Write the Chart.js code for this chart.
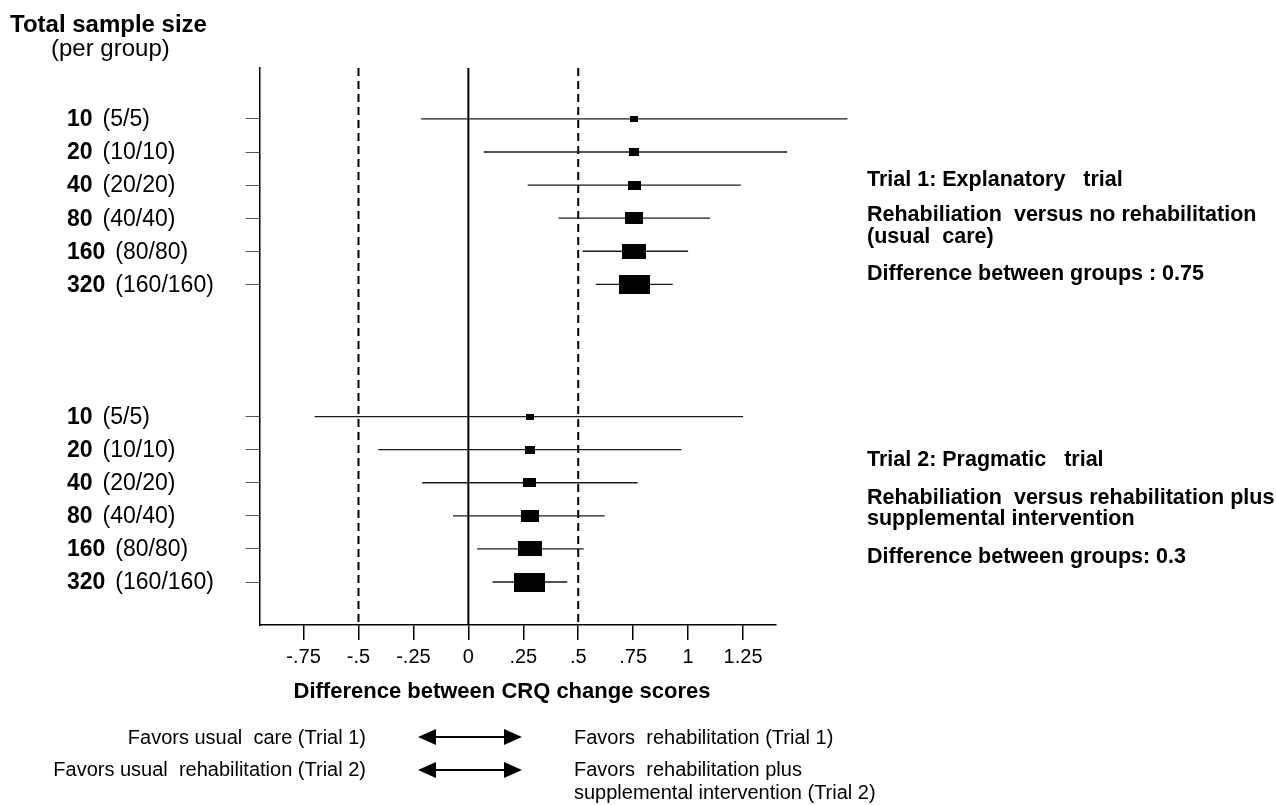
<!DOCTYPE html>
<html>
<head>
<meta charset="utf-8">
<title>Forest plot - CRQ change scores</title>
<script src="https://cdn.jsdelivr.net/npm/chart.js@4.4.0/dist/chart.umd.min.js"></script>
<style>
  html, body { margin: 0; padding: 0; background: #fff; }
  #wrap { width: 1276px; height: 805px; position: relative; }
</style>
</head>
<body>
<div id="wrap"><canvas id="forest"></canvas></div>
<script>
// sample sizes per row (total, and per group)
const sampleTotal = [10, 20, 40, 80, 160, 320];
const samplePerGroup = ['5/5', '10/10', '20/20', '40/40', '80/80', '160/160'];

// Trial 1: explanatory trial (rows 0-5)
const trial1Rows = [0, 1, 2, 3, 4, 5];
const trial1Est = [0.755, 0.755, 0.755, 0.755, 0.755, 0.755];
const trial1Lo = [-0.215, 0.07, 0.27, 0.41, 0.52, 0.58];
const trial1Hi = [1.725, 1.45, 1.24, 1.10, 1.00, 0.93];

// Trial 2: pragmatic trial (rows 9-14)
const trial2Rows = [9, 10, 11, 12, 13, 14];
const trial2Est = [0.28, 0.28, 0.28, 0.28, 0.28, 0.28];
const trial2Lo = [-0.70, -0.41, -0.21, -0.07, 0.04, 0.11];
const trial2Hi = [1.25, 0.97, 0.77, 0.62, 0.525, 0.45];

// x axis
const xTicks = [-0.75, -0.5, -0.25, 0, 0.25, 0.5, 0.75, 1, 1.25];
const xTickLabels = ['-.75', '-.5', '-.25', '0', '.25', '.5', '.75', '1', '1.25'];
const refLines = [-0.5, 0, 0.5];

const Y_MIN = -1.54, Y_MAX = 15.3;
const FONT = '"Liberation Sans", Arial, Helvetica, sans-serif';

// box size grows with sample size
function boxImage(n) {
    var w = Math.round(7.5 * Math.pow(n / 10, 0.414));
    var h = Math.round(w * 0.55 + 2);
    var c = document.createElement('canvas');
    c.width = w;
    c.height = h;
    var g = c.getContext('2d');
    g.fillStyle = '#000';
    g.fillRect(0, 0, w, h);
    return c;
}

function ciDatasets(rows, lo, hi) {
    return rows.map(function(r, i) {
        return {
            data: [{x: lo[i], y: r}, {x: hi[i], y: r}],
            showLine: true,
            borderColor: '#1a1a1a',
            borderWidth: 1.3,
            pointRadius: 0,
            clip: false,
            order: 2
        };
    });
}

function boxDataset(rows, est) {
    return {
        data: rows.map(function(r, i) { return {x: est[i], y: r}; }),
        pointStyle: sampleTotal.map(boxImage),
        pointRadius: 5,
        order: 0
    };
}

var refDatasets = refLines.map(function(v) {
    return {
        data: [{x: v, y: Y_MIN}, {x: v, y: Y_MAX}],
        showLine: true,
        borderColor: '#000',
        borderWidth: 2,
        borderDash: v === 0 ? [] : [8, 5],
        pointRadius: 0,
        order: 3
    };
});

function drawArrow(ctx, x1, x2, y) {
    var head = 18, half = 8;
    ctx.beginPath();
    ctx.moveTo(x1 + head - 2, y);
    ctx.lineTo(x2 - head + 2, y);
    ctx.lineWidth = 2;
    ctx.strokeStyle = '#000';
    ctx.stroke();
    ctx.beginPath();
    ctx.moveTo(x1, y);
    ctx.lineTo(x1 + head, y - half);
    ctx.lineTo(x1 + head, y + half);
    ctx.closePath();
    ctx.moveTo(x2, y);
    ctx.lineTo(x2 - head, y - half);
    ctx.lineTo(x2 - head, y + half);
    ctx.closePath();
    ctx.fillStyle = '#000';
    ctx.fill();
}

// texts around the plot: row labels, header, axis title, trial notes, favours legend
var textPlugin = {
    id: 'texts',
    afterDraw: function(chart) {
        var ctx = chart.ctx;
        var yScale = chart.scales.y;
        ctx.save();
        ctx.fillStyle = '#000';
        ctx.textAlign = 'left';
        ctx.textBaseline = 'alphabetic';

        ctx.font = 'bold 24px ' + FONT;
        ctx.fillText('Total sample size', 10, 32);
        ctx.font = '24px ' + FONT;
        ctx.fillText('(per group)', 51, 56);

        ctx.textBaseline = 'middle';
        [trial1Rows, trial2Rows].forEach(function(rows) {
            rows.forEach(function(r, i) {
                var y = yScale.getPixelForValue(r);
                ctx.font = 'bold 23px ' + FONT;
                var num = String(sampleTotal[i]);
                ctx.fillText(num, 67, y + 1);
                var w = ctx.measureText(num).width;
                ctx.font = '23px ' + FONT;
                ctx.fillText('(' + samplePerGroup[i] + ')', 67 + w + 10, y + 1);
            });
        });

        // x axis title
        ctx.textAlign = 'center';
        ctx.font = 'bold 22px ' + FONT;
        ctx.fillText('Difference between CRQ change scores', 502, 692);

        ctx.textAlign = 'left';
        ctx.textBaseline = 'alphabetic';
        ctx.font = 'bold 21.5px ' + FONT;
        ctx.fillText('Trial 1: Explanatory   trial', 867, 186);
        ctx.fillText('Rehabiliation  versus no rehabilitation', 867, 221);
        ctx.fillText('(usual  care)', 867, 243);
        ctx.fillText('Difference between groups : 0.75', 867, 280);

        ctx.fillText('Trial 2: Pragmatic   trial', 867, 466);
        ctx.fillText('Rehabiliation  versus rehabilitation plus', 867, 504);
        ctx.fillText('supplemental intervention', 867, 525);
        ctx.fillText('Difference between groups: 0.3', 867, 563);

        ctx.font = '20px ' + FONT;
        ctx.textBaseline = 'middle';
        ctx.textAlign = 'right';
        ctx.fillText('Favors usual  care (Trial 1)', 366, 738);
        ctx.fillText('Favors usual  rehabilitation (Trial 2)', 366, 770);
        ctx.textAlign = 'left';
        ctx.fillText('Favors  rehabilitation (Trial 1)', 574, 738);
        ctx.fillText('Favors  rehabilitation plus', 574, 770);
        ctx.fillText('supplemental intervention (Trial 2)', 574, 793);

        drawArrow(ctx, 418, 522, 737);
        drawArrow(ctx, 418, 522, 770);
        ctx.restore();
    }
};

var ctx = document.getElementById('forest').getContext('2d');
var forestChart = new Chart(ctx, {
    type: 'scatter',
    data: {
        datasets: [boxDataset(trial1Rows, trial1Est), boxDataset(trial2Rows, trial2Est)]
            .concat(ciDatasets(trial1Rows, trial1Lo, trial1Hi))
            .concat(ciDatasets(trial2Rows, trial2Lo, trial2Hi))
            .concat(refDatasets)
    },
    options: {
        responsive: true,
        maintainAspectRatio: false,
        animation: false,
        events: [],
        layout: {
            padding: {left: 245.6, right: 500, top: 68, bottom: 99}
        },
        plugins: {
            legend: {display: false},
            tooltip: {enabled: false}
        },
        scales: {
            x: {
                type: 'linear',
                min: -0.95,
                max: 1.40,
                afterBuildTicks: function(scale) {
                    scale.ticks = xTicks.map(function(v) { return {value: v}; });
                },
                afterFit: function(scale) { scale.height = 81; },
                ticks: {
                    callback: function(value) { return xTickLabels[xTicks.indexOf(value)]; },
                    font: {family: FONT, size: 20},
                    color: '#000',
                    padding: 5,
                    maxRotation: 0,
                    autoSkip: false
                },
                grid: {
                    drawOnChartArea: false,
                    drawTicks: true,
                    tickLength: 15,
                    color: '#000',
                    lineWidth: 1.5
                },
                border: {display: true, color: '#000', width: 1.5},
                title: {display: false}
            },
            y: {
                type: 'linear',
                reverse: true,
                min: Y_MIN,
                max: Y_MAX,
                afterBuildTicks: function(scale) {
                    scale.ticks = trial1Rows.concat(trial2Rows).map(function(v) { return {value: v}; });
                },
                afterFit: function(scale) { scale.width = 14; },
                ticks: {display: false},
                grid: {
                    drawOnChartArea: false,
                    drawTicks: true,
                    tickLength: 14,
                    color: '#555',
                    lineWidth: 1
                },
                border: {display: true, color: '#000', width: 1.5}
            }
        }
    },
    plugins: [textPlugin]
});
</script>
</body>
</html>
